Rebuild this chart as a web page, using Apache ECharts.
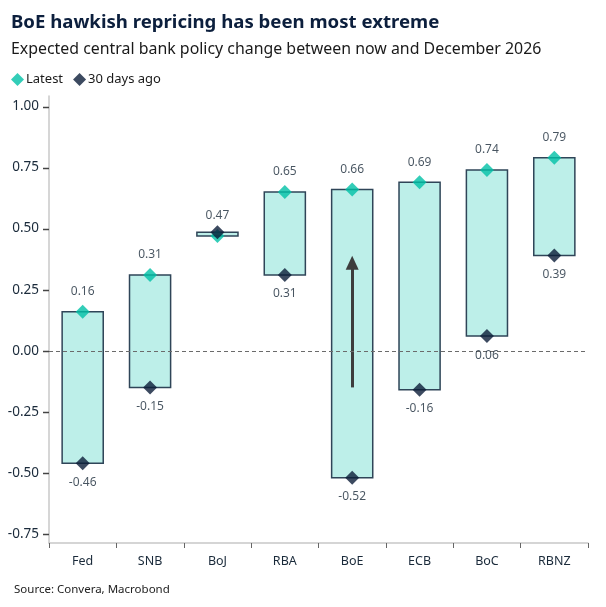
<!DOCTYPE html>
<html>
<head>
<meta charset="utf-8">
<style>
  html, body { margin: 0; padding: 0; background: #fff; }
  #chart { width: 606px; height: 607px; }
</style>
<script src="https://cdn.jsdelivr.net/npm/echarts@6/dist/echarts.min.js"></script>
</head>
<body>
<div id="chart"></div>
<script>
// chart data
const banks = ['Fed', 'SNB', 'BoJ', 'RBA', 'BoE', 'ECB', 'BoC', 'RBNZ'];
const latest = [0.16, 0.31, 0.47, 0.65, 0.66, 0.69, 0.74, 0.79];
const daysAgo30 = [-0.46, -0.15, 0.485, 0.31, -0.52, -0.16, 0.06, 0.39];
const yTicks = [-0.75, -0.5, -0.25, 0, 0.25, 0.5, 0.75, 1.0];
// BoE move arrow: from / to
const arrowFrom = -0.15;
const arrowTo = 0.36;

const TEAL = '#00c0a6';
const NAVY = '#0b1d38';
const FONT = 'Noto Sans';
const GRID_LEFT = 49;

const myChart = echarts.init(document.getElementById('chart'));

const rangeData = banks.map(function (b, i) {
    return [i, Math.min(latest[i], daysAgo30[i]), Math.max(latest[i], daysAgo30[i])];
});

const option = {
    animation: false,
    textStyle: { fontFamily: FONT },
    title: [
        {
            text: 'BoE hawkish repricing has been most extreme',
            left: 6, top: 8,
            textStyle: { fontSize: 18.6, fontWeight: 'bold', color: '#0c1f3d', fontFamily: FONT }
        },
        {
            text: 'Expected central bank policy change between now and December 2026',
            left: 6, top: 36,
            textStyle: { fontSize: 15.9, fontWeight: 'normal', color: '#1a1a1a', fontFamily: FONT }
        },
        {
            text: 'Source: Convera, Macrobond',
            left: 9, top: 579,
            textStyle: { fontSize: 11.5, fontWeight: 'normal', color: '#222', fontFamily: FONT }
        }
    ],
    legend: {
        data: ['Latest', '30 days ago'],
        left: 6, top: 68,
        icon: 'diamond',
        itemWidth: 13, itemHeight: 13, itemGap: 10,
        textStyle: { fontSize: 13, color: '#1a1a1a', padding: [0, 0, 0, -3] }
    },
    grid: { left: GRID_LEFT, right: 18, top: 96, bottom: 64 },
    xAxis: {
        type: 'category',
        data: banks,
        axisLine: { onZero: false, lineStyle: { color: '#c8c8c8', width: 1.5 } },
        axisTick: { show: true, length: 5, lineStyle: { color: '#666' } },
        axisLabel: { fontSize: 12.5, color: '#1a2a3a', margin: 12 },
        splitLine: { show: false }
    },
    yAxis: {
        type: 'value',
        min: -0.787, max: 1.043,
        axisLine: { show: true, lineStyle: { color: '#c8c8c8', width: 1.5 } },
        axisTick: { show: false },
        axisLabel: {
            fontSize: 13.5, color: '#1a2a3a', margin: 10, customValues: yTicks,
            formatter: function (v) { return v.toFixed(2); }
        },
        splitLine: { show: false }
    },
    series: [
        {
            type: 'custom',
            name: 'range',
            data: rangeData,
            z: 2,
            renderItem: function (params, api) {
                const lo = api.coord([api.value(0), api.value(1)]);
                const hi = api.coord([api.value(0), api.value(2)]);
                const w = api.size([1, 0])[0] * 0.61;
                return {
                    type: 'rect',
                    shape: { x: lo[0] - w / 2, y: hi[1], width: w, height: Math.max(lo[1] - hi[1], 3) },
                    style: { fill: '#bdefe9', stroke: '#2f4558', lineWidth: 1.5 }
                };
            }
        },
        {
            type: 'scatter',
            name: 'arrow',
            data: [],
            z: 3,
            markLine: {
                silent: true,
                symbol: ['none', 'triangle'],
                symbolSize: [13, 14],
                label: { show: false },
                lineStyle: { type: 'solid', color: '#3d3d3d', width: 3 },
                data: [[
                    { coord: ['BoE', arrowFrom] },
                    { coord: ['BoE', arrowTo] }
                ]]
            }
        },
        {
            type: 'scatter',
            name: 'zero',
            data: [],
            z: 3,
            markLine: {
                silent: true,
                symbol: ['none', 'none'],
                label: { show: false },
                lineStyle: { type: [4, 3], color: '#6b6b6b', width: 1 },
                data: [{ yAxis: 0 }]
            }
        },
        {
            type: 'scatter',
            name: 'Latest',
            data: latest,
            symbol: 'diamond',
            symbolSize: 14,
            z: 4,
            itemStyle: { color: TEAL },
            label: {
                show: true, position: 'top', distance: 7,
                fontSize: 12, color: '#1a2a3a',
                formatter: function (p) { return p.value.toFixed(2); }
            }
        },
        {
            type: 'scatter',
            name: '30 days ago',
            data: daysAgo30.map(function (v, i) {
                return banks[i] === 'BoJ' ? { value: v, label: { show: false } } : v;
            }),
            symbol: 'diamond',
            symbolSize: 14,
            z: 5,
            itemStyle: { color: NAVY },
            label: {
                show: true, position: 'bottom', distance: 6,
                fontSize: 12, color: '#1a2a3a',
                formatter: function (p) { return p.value.toFixed(2); }
            }
        }
    ]
};
myChart.setOption(option);

// y-axis tick marks, positioned through the axis scale
const tickGraphics = yTicks.map(function (v) {
    const y = Math.round(myChart.convertToPixel({ yAxisIndex: 0 }, v)) + 0.5;
    return {
        type: 'line',
        z: 100,
        silent: true,
        shape: { x1: GRID_LEFT - 6, y1: y, x2: GRID_LEFT, y2: y },
        style: { stroke: '#444', lineWidth: 1.5 }
    };
});
myChart.setOption({ graphic: tickGraphics });
</script>
</body>
</html>
